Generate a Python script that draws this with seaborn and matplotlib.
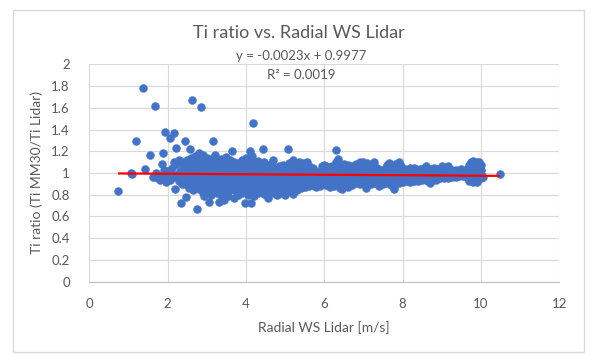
import numpy as np
import pandas as pd
import matplotlib
matplotlib.use("Agg")
import matplotlib.pyplot as plt
import seaborn as sns
from matplotlib.patches import Rectangle

# ---------------- data ----------------
title = "Ti ratio vs. Radial WS Lidar"
x_label = "Radial WS Lidar [m/s]"
y_label = "Ti ratio (Ti MM30/Ti Lidar)"
x_ticks = [0, 2, 4, 6, 8, 10, 12]
y_ticks = [0, 0.2, 0.4, 0.6, 0.8, 1, 1.2, 1.4, 1.6, 1.8, 2]
trend_slope = -0.0023
trend_intercept = 0.9977
trend_r2 = 0.0019

# sparse points / outliers (ws, ratio)
outlier_points = [
    (0.73, 0.83), (1.06, 1.00), (1.10, 0.99), (1.19, 1.29), (1.38, 1.78),
    (1.43, 1.04), (1.56, 1.17), (1.67, 1.62), (1.88, 1.18), (1.94, 1.38),
    (2.05, 1.32), (2.17, 1.37), (2.21, 1.23), (2.18, 0.85), (2.44, 1.29),
    (2.34, 0.72), (2.48, 0.78), (2.58, 1.22), (2.63, 1.67), (2.85, 1.61),
    (2.76, 0.67), (3.17, 1.29), (4.18, 1.46), (3.98, 0.72), (4.13, 0.72),
    (4.43, 1.22), (5.07, 1.22), (6.29, 1.21), (6.35, 1.13), (7.06, 0.86),
    (7.78, 0.85), (10.48, 0.99), (3.05, 0.73), (3.30, 0.73), (3.45, 0.75),
    (2.94, 0.79), (4.57, 0.77), (3.65, 1.20), (4.10, 1.20), (2.79, 1.18),
]

# low wind speed band: ws -> ratios
low_band = [
    (1.63, [0.96]), (1.70, [0.96, 1.00]), (1.75, [0.95]), (1.80, [0.97, 0.94]),
    (1.85, [1.08, 0.97]), (1.90, [1.03, 0.95]), (1.97, [0.92, 1.00]),
    (2.00, [1.02, 0.96]), (2.05, [0.94, 1.00]), (2.10, [0.98, 1.05]),
    (2.15, [0.96, 1.10]), (2.22, [1.08, 0.98]), (2.28, [1.12, 0.93]),
    (2.32, [1.02, 0.96]), (2.36, [1.10, 0.90]), (2.40, [1.05, 0.96]),
    (2.45, [0.90, 0.99, 1.08]), (2.50, [0.94, 1.02, 1.12]),
]

# dense band: ws -> ratios
mid_band = [
    (2.55, [0.86, 0.95, 1.02, 1.10]), (2.60, [0.90, 0.98, 1.06, 1.14]),
    (2.65, [0.84, 0.93, 1.01, 1.09]), (2.70, [0.88, 0.97, 1.04, 1.16]),
    (2.75, [0.92, 1.00, 1.08, 1.12]), (2.80, [0.85, 0.95, 1.03]),
    (2.85, [0.90, 0.98, 1.06]), (2.90, [0.82, 0.94, 1.01, 1.10, 1.17]),
    (2.95, [0.88, 0.97, 1.05]), (3.00, [0.85, 0.92, 1.00, 1.08, 1.14]),
    (3.05, [0.90, 0.96, 1.03, 1.10]), (3.10, [0.80, 0.87, 0.94, 1.01, 1.07]),
    (3.15, [0.84, 0.92, 0.99, 1.05, 1.14]), (3.20, [0.88, 0.96, 1.02, 1.10, 1.17]),
    (3.25, [0.82, 0.90, 0.98, 1.06]), (3.30, [0.86, 0.94, 1.01, 1.09]),
    (3.35, [0.80, 0.91, 0.97, 1.04, 1.13]), (3.40, [0.85, 0.93, 1.00, 1.07]),
    (3.45, [0.88, 0.96, 1.03, 1.11]), (3.50, [0.82, 0.90, 0.98, 1.05, 1.15]),
    (3.55, [0.79, 0.87, 0.94, 1.01, 1.08]), (3.60, [0.84, 0.92, 0.99, 1.06, 1.12]),
    (3.65, [0.86, 0.95, 1.02]), (3.70, [0.77, 0.89, 0.97, 1.04, 1.10]),
    (3.75, [0.83, 0.91, 0.99, 1.07]), (3.80, [0.80, 0.87, 0.94, 1.02, 1.09]),
    (3.85, [0.85, 0.93, 1.00, 1.06]), (3.90, [0.82, 0.90, 0.97, 1.04, 1.12]),
    (3.95, [0.87, 0.95, 1.02, 1.08]), (4.00, [0.84, 0.92, 0.99, 1.06, 1.14]),
    (4.05, [0.80, 0.89, 0.96, 1.03, 1.10]), (4.10, [0.86, 0.93, 1.00, 1.07]),
    (4.15, [0.83, 0.91, 0.98, 1.05, 1.16]), (4.20, [0.79, 0.88, 0.95, 1.02, 1.09]),
    (4.25, [0.85, 0.92, 0.99, 1.06]), (4.30, [0.82, 0.90, 0.97, 1.04, 1.11]),
    (4.35, [0.87, 0.94, 1.01, 1.08]), (4.40, [0.84, 0.91, 0.98, 1.05]),
    (4.45, [0.81, 0.89, 0.96, 1.03, 1.10]), (4.50, [0.86, 0.93, 1.00, 1.07]),
    (4.55, [0.88, 0.95, 1.02, 1.06]), (4.60, [0.84, 0.91, 0.98, 1.04]),
    (4.65, [0.86, 0.94, 1.01, 1.08]), (4.70, [0.82, 0.90, 0.97, 1.03, 1.12]),
    (4.75, [0.87, 0.93, 1.00, 1.05]), (4.80, [0.80, 0.89, 0.96, 1.02]),
    (4.85, [0.85, 0.92, 0.99, 1.06]), (4.90, [0.82, 0.90, 0.97, 1.03]),
    (4.95, [0.87, 0.94, 1.00, 1.07]), (5.00, [0.80, 0.88, 0.95, 1.02, 1.06]),
    (5.05, [0.85, 0.92, 0.99]), (5.10, [0.83, 0.90, 0.97, 1.04, 1.09]),
    (5.15, [0.87, 0.94, 1.01, 1.06]), (5.20, [0.81, 0.89, 0.96, 1.03, 1.12]),
    (5.25, [0.86, 0.93, 0.99, 1.08]), (5.30, [0.84, 0.91, 0.98, 1.05]),
    (5.35, [0.88, 0.95, 1.02, 1.10]), (5.40, [0.86, 0.92, 0.99, 1.06]),
    (5.45, [0.89, 0.96, 1.03, 1.09]), (5.50, [0.87, 0.93, 1.00, 1.07]),
    (5.55, [0.90, 0.96, 1.04, 1.10]), (5.60, [0.88, 0.94, 1.01, 1.06]),
    (5.65, [0.91, 0.97, 1.03]), (5.70, [0.89, 0.95, 1.00, 1.05]),
    (5.75, [0.92, 0.98, 1.02]), (5.80, [0.87, 0.94, 0.99]),
    (5.85, [0.90, 0.96, 1.01]), (5.90, [0.88, 0.95, 1.00]),
    (5.95, [0.91, 0.97, 1.03, 1.06]), (6.00, [0.93, 0.99, 1.04, 1.07]),
    (6.05, [0.89, 0.96, 1.01, 1.06]), (6.10, [0.92, 0.98, 1.03]),
    (6.15, [0.87, 0.94, 1.00, 1.05]), (6.20, [0.90, 0.96, 1.02, 1.06]),
    (6.25, [0.88, 0.95, 1.00]), (6.30, [0.91, 0.97, 1.03, 1.10]),
    (6.35, [0.89, 0.95, 1.01]), (6.40, [0.86, 0.93, 0.99, 1.06]),
    (6.45, [0.85, 0.92, 0.98, 1.05]), (6.50, [0.88, 0.95, 1.02, 1.08]),
]

# high wind speed band: ws -> ratios
high_band = [
    (6.55, [0.90, 0.97, 1.04]), (6.60, [0.87, 0.94, 1.00, 1.07]),
    (6.65, [0.92, 0.98, 1.03]), (6.70, [0.89, 0.96, 1.01, 1.06]),
    (6.75, [0.93, 0.99, 1.04]), (6.80, [0.91, 0.97, 1.02, 1.08]),
    (6.85, [0.94, 1.00, 1.05]), (6.90, [0.90, 0.96, 1.02, 1.10]),
    (6.95, [0.93, 0.99, 1.06]), (7.00, [0.91, 0.97, 1.03, 1.10]),
    (7.06, [0.95, 1.00, 1.07]), (7.10, [0.92, 0.98, 1.04, 1.09]),
    (7.15, [0.94, 1.00, 1.06]), (7.20, [0.90, 0.96, 1.02, 1.08]),
    (7.26, [0.93, 0.99, 1.05, 1.10]), (7.30, [0.91, 0.97, 1.03]),
    (7.35, [0.94, 1.00, 1.05]), (7.40, [0.88, 0.95, 1.01]),
    (7.45, [0.92, 0.98, 1.03]), (7.50, [0.90, 0.96, 1.00]),
    (7.55, [0.93, 0.99, 1.04]), (7.60, [0.91, 0.97, 1.02, 1.07]),
    (7.65, [0.94, 1.00, 1.09]), (7.70, [0.89, 0.96, 1.03]),
    (7.75, [0.92, 0.98, 1.05]), (7.80, [0.90, 0.96, 1.01, 1.08]),
    (7.85, [0.93, 0.99, 1.04]), (7.90, [0.91, 0.97, 1.02, 1.10]),
    (7.95, [0.94, 1.00, 1.06]), (8.00, [0.92, 0.98, 1.03]),
    (8.05, [0.95, 1.00, 1.04]), (8.10, [0.93, 0.97, 1.02]),
    (8.15, [0.94, 0.99, 1.03]), (8.20, [0.92, 0.96, 1.01, 1.05]),
    (8.25, [0.95, 1.00, 1.03]), (8.30, [0.93, 0.97, 1.02, 1.05]),
    (8.35, [0.94, 0.99, 1.04]), (8.40, [0.93, 0.97, 1.01]),
    (8.45, [0.95, 1.00, 1.04]), (8.50, [0.94, 0.98, 1.03]),
    (8.55, [0.96, 1.01, 1.05]), (8.60, [0.94, 0.99, 1.06]),
    (8.65, [0.93, 0.97, 1.02]), (8.70, [0.91, 0.96, 1.00, 1.04]),
    (8.75, [0.94, 0.98, 1.03]), (8.80, [0.96, 1.00, 1.05]),
    (8.85, [0.94, 0.98, 1.02]), (8.90, [0.96, 1.01, 1.04]),
    (8.95, [0.95, 0.99, 1.03]), (9.00, [0.96, 1.00, 1.06]),
    (9.05, [0.95, 0.98, 1.02]), (9.10, [0.97, 1.01, 1.04]),
    (9.15, [0.95, 0.99, 1.06]), (9.20, [0.97, 1.02]),
    (9.25, [0.96, 1.00, 1.03]), (9.30, [0.97, 1.01]),
    (9.35, [0.96, 1.00, 1.03]), (9.40, [0.98, 1.02]),
    (9.45, [0.97, 1.00]), (9.50, [0.98, 1.02, 1.04]),
    (9.55, [0.97, 1.01]), (9.60, [0.99, 1.02]),
    (9.65, [0.96, 1.00, 1.04]), (9.70, [0.93, 0.98, 1.02, 1.07]),
    (9.75, [0.95, 1.00, 1.10]), (9.80, [0.92, 0.97, 1.03, 1.11]),
    (9.85, [0.94, 0.99, 1.06]), (9.90, [0.92, 0.97, 1.10]),
    (9.95, [0.96, 1.00, 1.10]), (10.00, [0.95, 0.99, 1.03, 1.07]),
    (10.05, [0.96]),
]

# ---------------- assemble ----------------
ws, ratio = [], []
for x, y in outlier_points:
    ws.append(x); ratio.append(y)
for band in (low_band, mid_band, high_band):
    for x, ys in band:
        for y in ys:
            ws.append(x); ratio.append(y)
df = pd.DataFrame({"ws": ws, "ratio": ratio})

# ---------------- figure ----------------
sns.set_style("white")
plt.rcParams["font.family"] = ["Lato", "DejaVu Sans"]
text_color = "#595959"
grid_color = "#D9D9D9"

fig = plt.figure(figsize=(5.91, 3.57), dpi=100)
W, H = 591, 357
ax = fig.add_axes([89.3 / W, (H - 281.7) / H, (559.3 - 89.3) / W, (281.7 - 64.3) / H])

sns.scatterplot(data=df, x="ws", y="ratio", ax=ax, color="#4472C4",
                edgecolor="#4472C4", linewidth=0.3, s=33, zorder=3, legend=False)

x_line = np.array([df["ws"].min(), df["ws"].max()])
ax.plot(x_line, trend_slope * x_line + trend_intercept, color="#FF0000",
        lw=1.6, zorder=4, solid_capstyle="butt")

ax.set_xlim(0, 12)
ax.set_ylim(0, 2)
ax.set_xticks(x_ticks)
ax.set_yticks(y_ticks)
ax.set_xticklabels([str(t) for t in x_ticks])
ax.set_yticklabels([f"{t:g}" for t in y_ticks])
ax.grid(True, color=grid_color, lw=0.8, zorder=0)
ax.set_axisbelow(True)
for side in ("top", "right", "left"):
    ax.spines[side].set_visible(False)
ax.spines["bottom"].set_color("#BFBFBF")
ax.spines["bottom"].set_linewidth(0.8)
ax.tick_params(axis="both", length=0, colors=text_color, labelsize=9.5)
ax.tick_params(axis="y", pad=14)
ax.tick_params(axis="x", pad=12)

ax.set_xlabel(x_label, fontsize=10, color=text_color, labelpad=8)
ax.set_ylabel(y_label, fontsize=10, color=text_color, labelpad=6)

fig.text(299 / W, 1 - 33 / H, title, ha="center", va="center", fontsize=13, color=text_color)
fig.text(301 / W, 1 - 56 / H, f"y = {trend_slope}x + {trend_intercept}", ha="center",
         va="center", fontsize=9.5, color=text_color)
fig.text(301 / W, 1 - 75 / H, f"R² = {trend_r2}", ha="center", va="center",
         fontsize=9.5, color=text_color)

fig.patches.append(Rectangle((13 / W, 1 - 352 / H), (584 - 13) / W, (352 - 10) / H,
                             transform=fig.transFigure, fill=False,
                             edgecolor="#D9D9D9", lw=1.0))

fig.savefig("out.png", dpi=100)
